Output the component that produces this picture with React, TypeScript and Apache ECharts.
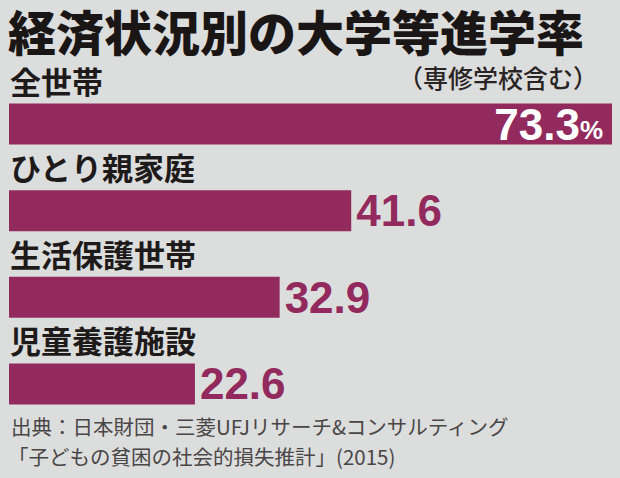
import React, { useEffect, useRef } from "react";
import * as echarts from "echarts";

const categories = ["全世帯", "ひとり親家庭", "生活保護世帯", "児童養護施設"];
const values = [73.3, 41.6, 32.9, 22.6];
const titleText = "経済状況別の大学等進学率";
const subtitleText = "（専修学校含む）";
const sourceLines = [
  "出典：日本財団・三菱UFJリサーチ&コンサルティング",
  "「子どもの貧困の社会的損失推計」(2015)",
];

const BAR = "#922a5e";
const BG = "#dcdddd";
const CJK = "'Noto Sans CJK JP', 'Noto Sans', sans-serif";
const NUM = "'Liberation Sans Narrow', 'Liberation Sans', Arial, sans-serif";

export default function App() {
  const ref = useRef<HTMLDivElement>(null);
  useEffect(() => {
    if (!ref.current) return;
    const chart = echarts.init(ref.current, null, { renderer: "svg" });
    chart.setOption({
      animation: false,
      backgroundColor: BG,
      grid: { left: 9, right: 8, top: 80.67, bottom: 50.67, containLabel: false },
      xAxis: {
        type: "value",
        min: 0,
        max: 73.3,
        show: false,
      },
      yAxis: {
        type: "category",
        data: categories,
        inverse: true,
        axisLine: { show: false },
        axisTick: { show: false },
        splitLine: { show: false },
        axisLabel: {
          inside: true,
          margin: 1,
          align: "left",
          verticalAlign: "bottom",
          padding: [0, 0, 27, 0],
          fontFamily: CJK,
          fontWeight: "bold",
          fontSize: 31,
          lineHeight: 34,
          color: "#1e1a1a",
        },
        z: 5,
      },
      series: [
        {
          type: "bar",
          data: values.map((v, i) => ({
            value: v,
            label:
              i === 0
                ? {
                    show: true,
                    position: "insideRight",
                    distance: 9,
                    formatter: (p: any) => `{n|${p.value}}{p|%}`,
                    rich: {
                      n: { fontFamily: NUM, fontWeight: "bold", fontSize: 44, color: "#ffffff" },
                      p: { fontFamily: NUM, fontWeight: "bold", fontSize: 26, color: "#ffffff", verticalAlign: "bottom", padding: [0, 0, 3, 0] },
                    },
                  }
                : {
                    show: true,
                    position: "right",
                    distance: 5,
                    formatter: (p: any) => `${p.value}`,
                    fontFamily: NUM,
                    fontWeight: "bold",
                    fontSize: 44,
                    color: BAR,
                  },
          })),
          barWidth: 41,
          itemStyle: { color: BAR },
          silent: true,
        },
      ],
      graphic: [
        {
          type: "text",
          left: 8,
          top: 6,
          style: {
            text: titleText,
            font: `900 48px ${CJK}`,
            lineHeight: 48,
            fill: "#1a1616",
          },
        },
        {
          type: "text",
          right: 22,
          top: 64,
          style: {
            text: subtitleText,
            font: `500 25px ${CJK}`,
            lineHeight: 26,
            fill: "#2a2424",
          },
        },
        {
          type: "text",
          left: 11,
          top: 416,
          style: {
            text: sourceLines[0],
            font: `400 20.5px ${CJK}`,
            fill: "#4a4646",
          },
        },
        {
          type: "text",
          left: 8,
          top: 446,
          style: {
            text: sourceLines[1],
            font: `400 20.5px ${CJK}`,
            fill: "#4a4646",
          },
        },
      ],
    });
    return () => chart.dispose();
  }, []);
  return (
    <div
      ref={ref}
      style={{ position: "fixed", left: 0, top: 0, width: 620, height: 478, background: BG }}
    />
  );
}
